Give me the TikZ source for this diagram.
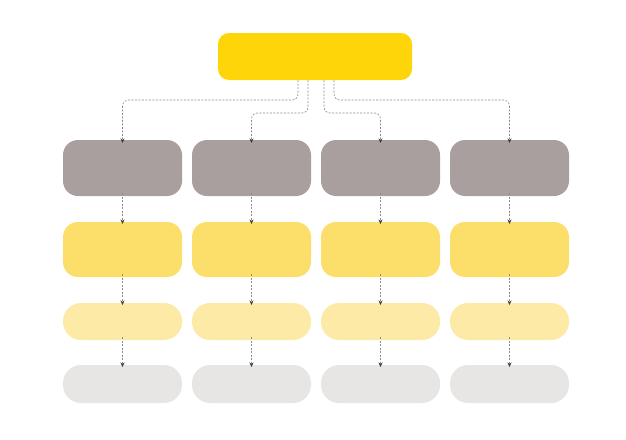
\documentclass[tikz,border=0pt]{standalone}
\usetikzlibrary{arrows.meta}
\definecolor{topyel}{HTML}{FDD508}
\definecolor{graybox}{HTML}{A99F9E}
\definecolor{yel2}{HTML}{FCDF6A}
\definecolor{yel3}{HTML}{FCEAA6}
\definecolor{gray4}{HTML}{E8E5E5}
\definecolor{linec}{HTML}{8A8A8A}
\begin{document}
\begin{tikzpicture}[x=1pt,y=-1pt,
  card/.style={draw=none,inner sep=0pt,outer sep=0pt,minimum width=119pt},
  topbox/.style={card,fill=topyel,minimum width=194pt,minimum height=47pt,rounded corners=11pt},
  rowa/.style={card,fill=graybox,minimum height=56pt,rounded corners=15pt},
  rowb/.style={card,fill=yel2,minimum height=55pt,rounded corners=15pt},
  rowc/.style={card,fill=yel3,minimum height=37pt,rounded corners=18pt},
  rowd/.style={card,fill=gray4,minimum height=38pt,rounded corners=18pt},
  dashline/.style={draw=linec,line width=0.6pt,dash pattern=on 2pt off 1.5pt,-{Stealth[length=4.5pt,width=4pt,color=black!75]}},
  conn/.style={dashline,rounded corners=6pt}]
\useasboundingbox (0,0) rectangle (626,439);
\node[topbox] (top) at (315,56.5) {};
\foreach \c/\m in {1/122.5,2/251.5,3/380.5,4/509.5}{
  \node[rowa] (a\c) at (\m,168) {};
  \node[rowb] (b\c) at (\m,249.5) {};
  \node[rowc] (c\c) at (\m,321.5) {};
  \node[rowd] (d\c) at (\m,384) {};
  \draw[dashline] ([yshift=3pt]a\c.south) -- ([yshift=-2pt]b\c.north);
  \draw[dashline] ([yshift=3pt]b\c.south) -- ([yshift=-2pt]c\c.north);
  \draw[dashline] ([yshift=3pt]c\c.south) -- ([yshift=-2pt]d\c.north);
}
\draw[conn] ([xshift=-17pt]top.south) -- ++(0,20) -| ([yshift=-3pt]a1.north);
\draw[conn] ([xshift=-7pt]top.south) -- ++(0,33) -| ([yshift=-3pt]a2.north);
\draw[conn] ([xshift=9pt]top.south) -- ++(0,33) -| ([yshift=-3pt]a3.north);
\draw[conn] ([xshift=19pt]top.south) -- ++(0,20) -| ([yshift=-3pt]a4.north);
\end{tikzpicture}
\end{document}
